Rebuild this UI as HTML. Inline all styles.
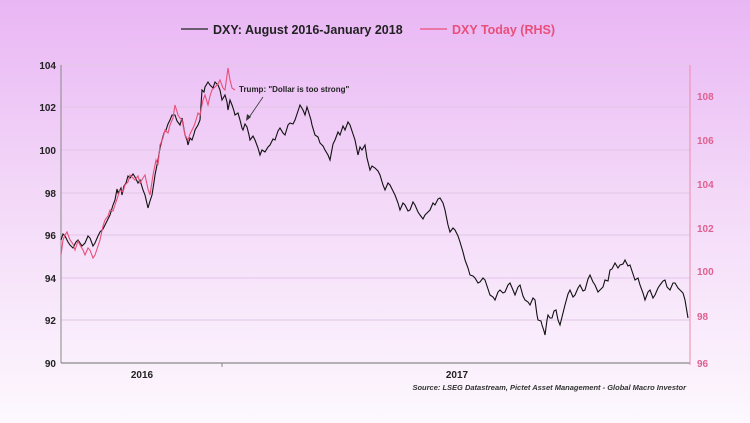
<!DOCTYPE html>
<html><head><style>
html,body{margin:0;padding:0}
body{width:750px;height:423px;background:linear-gradient(#e9b6f4 0%,#f3d8f8 45%,#fdf8fe 100%);font-family:"Liberation Sans",sans-serif;overflow:hidden}
</style></head><body>
<svg width="750" height="423" xmlns="http://www.w3.org/2000/svg" style="position:absolute;left:0;top:0">
<g stroke="#e2c6e6" stroke-width="1">
<line x1="61" y1="65" x2="690" y2="65"/><line x1="61" y1="107" x2="690" y2="107"/><line x1="61" y1="150" x2="690" y2="150"/><line x1="61" y1="193" x2="690" y2="193"/><line x1="61" y1="235" x2="690" y2="235"/><line x1="61" y1="278" x2="690" y2="278"/><line x1="61" y1="320" x2="690" y2="320"/>
</g>
<line x1="61" y1="65" x2="61" y2="363" stroke="#888" stroke-width="1"/>
<line x1="61" y1="363" x2="690" y2="363" stroke="#888" stroke-width="1.2"/>
<line x1="690" y1="65" x2="690" y2="365" stroke="#ee8aa8" stroke-width="1"/>
<g stroke="#888"><line x1="222" y1="363" x2="222" y2="367"/></g>
<g font-size="10" font-weight="bold" fill="#222" text-anchor="end">
<text x="56" y="69">104</text><text x="56" y="111">102</text><text x="56" y="154">100</text><text x="56" y="197">98</text><text x="56" y="239">96</text><text x="56" y="282">94</text><text x="56" y="324">92</text><text x="56" y="367">90</text>
</g>
<g font-size="10" font-weight="bold" fill="#e06090">
<text x="697" y="100">108</text><text x="697" y="144">106</text><text x="697" y="188">104</text><text x="697" y="232">102</text><text x="697" y="275">100</text><text x="697" y="320">98</text><text x="697" y="367">96</text>
</g>
<g font-size="10" font-weight="bold" fill="#222" text-anchor="middle"><text x="142" y="378">2016</text><text x="457" y="378">2017</text></g>
<text x="686" y="390" font-size="7.5" font-style="italic" font-weight="bold" fill="#333" text-anchor="end">Source: LSEG Datastream, Pictet Asset Management - Global Macro Investor</text>
<line x1="181" y1="29" x2="208" y2="29" stroke="#222" stroke-width="1.3"/>
<text x="213" y="34" font-size="12.5" font-weight="bold" fill="#222">DXY: August 2016-January 2018</text>
<line x1="420" y1="29" x2="447" y2="29" stroke="#e8507a" stroke-width="1.3"/>
<text x="452" y="34" font-size="12.5" font-weight="bold" fill="#e8507a">DXY Today (RHS)</text>
<text x="239" y="92" font-size="8" font-weight="bold" fill="#222">Trump: "Dollar is too strong"</text>
<line x1="263" y1="97" x2="248" y2="119" stroke="#333" stroke-width="0.8"/>
<polygon points="246,121 247,114 251,117" fill="#333"/>
<polyline fill="none" stroke="#111" stroke-width="1.1" points="61,240 63,234 65,236 68,242 70,245 73,248 76,242 78,240 82,246 85,243 88,236 90,238 93,246 95,243 98,236 100,232 103,229 105,225 108,219 110,215 113,205 115,200 117,189 118,193 121,188 122,195 124,186 126,183 128,176 130,178 133,174 135,177 138,183 140,180 143,190 145,195 148,208 150,201 152,195 154,182 155,175 158,160 160,148 162,140 164,133 166,130 168,124 170,120 172,115 175,115 177,121 180,125 182,118 185,135 187,140 188,145 190,138 192,140 194,134 195,130 198,125 200,120 202,90 204,92 205,87 208,82 210,85 213,88 215,82 218,85 220,90 222,100 225,95 227,102 228,110 230,100 232,105 234,111 235,115 238,113 240,120 242,128 243,130 245,124 247,127 249,135 250,140 253,136 255,140 258,148 260,155 262,150 265,152 268,147 270,145 273,139 275,140 278,131 280,128 283,133 285,135 288,125 290,123 293,124 295,120 298,111 300,105 303,110 305,115 307,107 308,110 311,120 312,125 315,135 318,137 320,143 323,146 325,150 328,155 330,160 333,144 335,140 338,132 340,135 343,126 345,130 348,122 350,125 353,134 355,140 357,150 358,155 360,147 362,150 365,145 367,158 370,170 372,166 375,168 378,171 380,175 383,185 385,190 388,183 390,185 393,191 395,195 398,203 400,210 403,203 405,205 408,211 410,210 413,202 415,205 418,212 420,215 423,219 425,215 428,212 430,210 433,203 435,205 438,199 440,198 443,203 445,210 448,225 450,232 453,228 455,230 458,236 460,242 463,252 465,260 468,268 470,275 473,276 475,278 478,283 480,282 483,278 485,280 488,289 490,295 493,297 495,300 498,292 500,290 503,293 505,292 508,285 510,283 513,290 515,295 518,287 520,285 523,296 525,300 528,302 530,305 533,298 535,300 537,315 538,320 541,321 542,325 544,331 545,335 547,320 548,315 550,318 552,318 554,311 556,310 558,320 560,325 563,313 565,305 568,294 570,290 573,297 575,295 578,288 580,285 583,291 585,290 588,279 590,275 593,282 595,285 598,292 600,290 603,287 605,280 608,281 610,270 612,269 615,263 618,268 620,265 623,264 625,260 628,266 630,265 633,274 635,280 638,278 640,285 643,293 645,300 648,292 650,290 653,298 655,295 658,288 660,285 663,281 665,280 667,287 670,290 673,283 675,283 678,288 680,290 683,293 685,300 687,312 688,318"/>
<polyline fill="none" stroke="#e8507a" stroke-width="1.1" points="61,255 63,240 65,235 67,232 70,240 73,244 75,250 78,241 80,245 83,250 85,255 88,248 90,250 93,258 95,255 98,246 100,240 103,226 105,220 108,216 110,210 113,211 115,205 118,196 120,190 123,192 125,185 128,182 130,175 133,178 135,180 138,176 140,183 143,178 145,175 148,189 150,195 153,175 156,160 158,165 160,145 163,138 165,130 168,133 170,125 173,118 175,105 178,115 180,118 182,120 185,135 188,140 190,134 192,130 194,126 196,120 198,113 200,115 203,100 205,95 208,105 210,96 212,90 215,87 218,84 220,80 223,88 225,90 228,68 230,80 232,88 235,90"/>
</svg>
</body></html>
